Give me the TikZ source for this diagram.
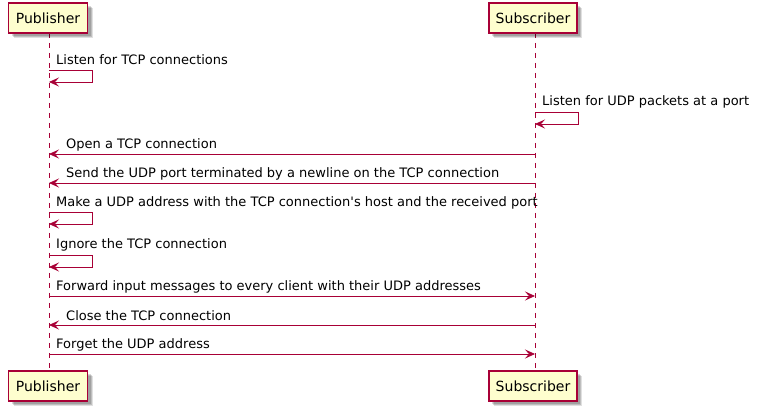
\documentclass[tikz,border=0pt]{standalone}
\usepackage{fontspec}
\setmainfont{DejaVu Sans}
\usetikzlibrary{arrows.meta,shadows}
\definecolor{umlred}{HTML}{A80036}
\definecolor{umlfill}{HTML}{FEFECE}
\tikzset{
  part/.style={draw=umlred, fill=umlfill, line width=1.2pt, minimum width=79pt, minimum height=30pt,
    inner sep=0pt, font=\fontsize{14pt}{16pt}\selectfont,
    general shadow={shadow xshift=5pt, shadow yshift=-5pt, opacity=0.12, fill=black},
    general shadow={shadow xshift=4pt, shadow yshift=-4pt, opacity=0.15, fill=black},
    general shadow={shadow xshift=3pt, shadow yshift=-3pt, opacity=0.15, fill=black}},
  life/.style={draw=umlred, line width=0.8pt, dash pattern=on 5pt off 5pt},
  msg/.style={draw=umlred, line width=0.8pt, -{Stealth[length=10pt, width=9pt, inset=4pt]}},
  lbl/.style={anchor=west, inner sep=0pt, font=\fontsize{13pt}{15pt}\selectfont}
}
\begin{document}
\begin{tikzpicture}[x=1pt, y=-1pt]
\useasboundingbox (0,0) rectangle (757,411);
\fill[white] (0,0) rectangle (757,411);
% lifelines
\coordinate (pubA) at (49,33);
\coordinate (pubB) at (49,372);
\coordinate (subA) at (535,33);
\coordinate (subB) at (535,372);
\draw[life] (pubA) -- (pubB);
\draw[life] (subA) -- (subB);
% participants
\node[part] (pubT) at (48,18) {Publisher};
\node[part, minimum width=88pt] (subT) at (533,18) {Subscriber};
\node[part] (pubD) at (48,386) {Publisher};
\node[part, minimum width=88pt] (subD) at (533,386) {Subscriber};
% 1 self publisher
\node[lbl] (l1) at (56,60) {Listen for TCP connections};
\draw[msg] (pubA |- 0,70) -- (92,70) -- (92,82) -- (pubA |- 0,82);
% 2 self subscriber
\node[lbl] (l2) at (542,102) {Listen for UDP packets at a port};
\draw[msg] (subA |- 0,112) -- (578,112) -- (578,124) -- (subA |- 0,124);
% 3
\node[lbl] (l3) at (66,145) {Open a TCP connection};
\draw[msg] (subA |- 0,154) -- (pubA |- 0,154);
% 4
\node[lbl] (l4) at (66,174) {Send the UDP port terminated by a newline on the TCP connection};
\draw[msg] (subA |- 0,183) -- (pubA |- 0,183);
% 5
\node[lbl] (l5) at (56,203) {Make a UDP address with the TCP connection\textquotesingle s host and the received port};
\draw[msg] (pubA |- 0,212) -- (92,212) -- (92,224) -- (pubA |- 0,224);
% 6
\node[lbl] (l6) at (56,245) {Ignore the TCP connection};
\draw[msg] (pubA |- 0,255) -- (92,255) -- (92,267) -- (pubA |- 0,267);
% 7
\node[lbl] (l7) at (56,287) {Forward input messages to every client with their UDP addresses};
\draw[msg] (pubA |- 0,296) -- (subA |- 0,296);
% 8
\node[lbl] (l8) at (66,316) {Close the TCP connection};
\draw[msg] (subA |- 0,325) -- (pubA |- 0,325);
% 9
\node[lbl] (l9) at (56,345) {Forget the UDP address};
\draw[msg] (pubA |- 0,354) -- (subA |- 0,354);
\end{tikzpicture}
\end{document}
